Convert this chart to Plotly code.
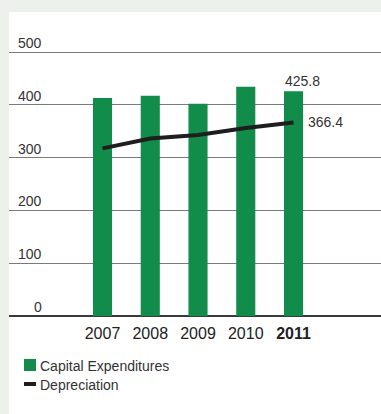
import plotly.graph_objects as go

# Data (USD millions)
years = ["2007", "2008", "2009", "2010", "2011"]
year_labels = ["2007", "2008", "2009", "2010", "<b>2011</b>"]
capex = [413, 417, 402, 434, 425.8]
depreciation = [317.5, 336, 343, 356, 366.4]
y_ticks = [0, 100, 200, 300, 400, 500]

GREEN = "#128c4a"
LINE = "#1e1e1e"
TEXT = "#333333"
FONT = "Liberation Sans, Arial, sans-serif"

W, H = 381, 414
L, R, T, B = 9, 0, 12, 98
PW, PH = W - L - R, H - T - B


def px_x(p):
    return (p - L) / PW


def px_y(p):
    return (H - B - p) / PH


fig = go.Figure()

fig.add_trace(go.Bar(
    x=years, y=capex, name="Capital Expenditures",
    marker=dict(color=GREEN, line=dict(width=0)), width=0.4,
    showlegend=False, hoverinfo="x+y",
))
fig.add_trace(go.Scatter(
    x=years, y=depreciation, name="Depreciation", mode="lines",
    line=dict(color=LINE, width=4), showlegend=False,
))

annotations = []
# Y tick labels sitting above their gridlines
for v in y_ticks:
    annotations.append(dict(
        x=px_x(44), xref="paper", xanchor="right",
        y=v, yref="y", yanchor="middle", yshift=9,
        text=str(v), showarrow=False,
        font=dict(family=FONT, size=14, color=TEXT),
    ))

# Value callouts for the latest year
last = len(years) - 1
annotations.append(dict(
    x=last, y=capex[-1], xref="x", yref="y",
    xanchor="center", yanchor="bottom", xshift=9, yshift=0,
    text=f"{capex[-1]:.1f}", showarrow=False,
    font=dict(family=FONT, size=14, color=TEXT),
))
annotations.append(dict(
    x=last, y=depreciation[-1], xref="x", yref="y",
    xanchor="left", yanchor="middle", xshift=12, yshift=1,
    text=f"{depreciation[-1]:.1f}", showarrow=False,
    font=dict(family=FONT, size=14, color=TEXT),
))

# Legend entries
annotations.append(dict(
    x=px_x(38), y=px_y(366), xref="paper", yref="paper",
    xanchor="left", yanchor="middle", text="Capital Expenditures",
    showarrow=False, font=dict(family=FONT, size=14, color=TEXT),
))
annotations.append(dict(
    x=px_x(38), y=px_y(385), xref="paper", yref="paper",
    xanchor="left", yanchor="middle", text="Depreciation",
    showarrow=False, font=dict(family=FONT, size=14, color=TEXT),
))

shapes = [
    # white panel over the tinted page
    dict(type="rect", xref="paper", yref="paper",
         x0=0, x1=1, y0=px_y(H + 5), y1=1,
         fillcolor="white", line=dict(width=0), layer="below"),
    # legend swatches
    dict(type="rect", xref="paper", yref="paper",
         x0=px_x(24), x1=px_x(36), y0=px_y(371), y1=px_y(359),
         fillcolor=GREEN, line=dict(width=0)),
    dict(type="line", xref="paper", yref="paper",
         x0=px_x(24), x1=px_x(36), y0=px_y(384), y1=px_y(384),
         line=dict(color=LINE, width=4)),
]

fig.update_layout(
    width=W, height=H,
    margin=dict(l=L, r=R, t=T, b=B, pad=0),
    paper_bgcolor="#edf1ec",
    plot_bgcolor="white",
    font=dict(family=FONT, color=TEXT),
    bargap=0.6,
    annotations=annotations,
    shapes=shapes,
    xaxis=dict(
        type="category", range=[-1.958, 5.832],
        tickmode="array", tickvals=years, ticktext=year_labels,
        tickfont=dict(family=FONT, size=16, color="#222222"),
        showgrid=False, zeroline=False, showline=False, ticks="",
        ticklabelstandoff=6, fixedrange=True,
    ),
    yaxis=dict(
        range=[0, (H - B - T) / ((H - B - 52) / 500)],
        tickmode="array", tickvals=y_ticks, showticklabels=False,
        showgrid=True, gridcolor="#7a7a7a", gridwidth=1.3,
        zeroline=True, zerolinecolor="#3a3a3a", zerolinewidth=1.6,
        showline=False, ticks="", fixedrange=True,
    ),
)

fig.write_html("out.html")
